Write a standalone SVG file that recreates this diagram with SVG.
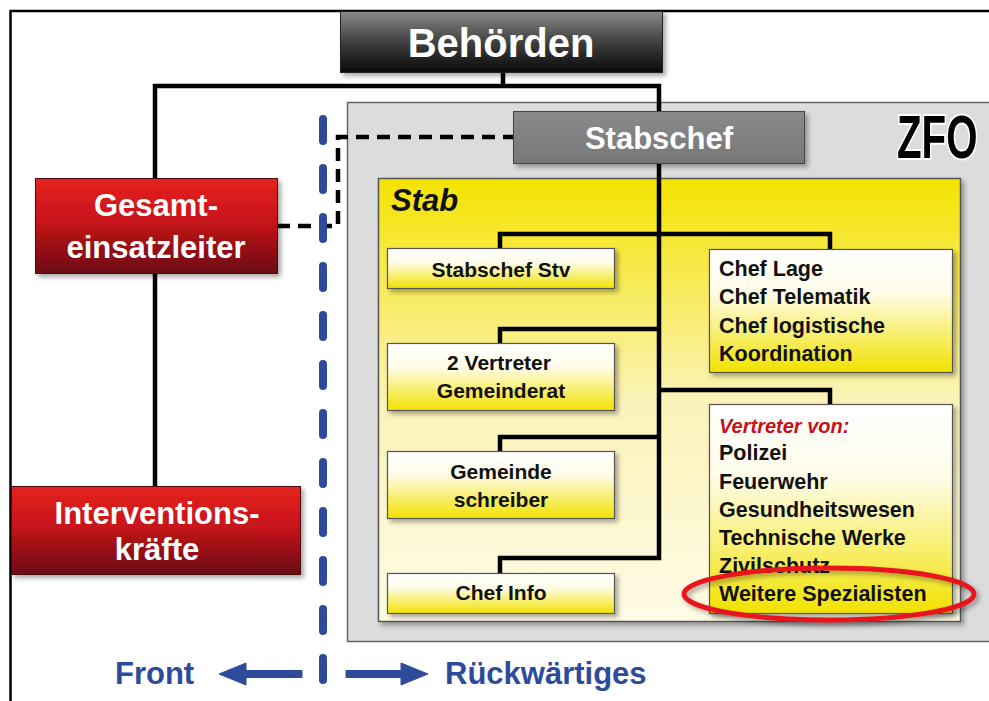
<svg xmlns="http://www.w3.org/2000/svg" width="989" height="701" viewBox="0 0 989 701">
<defs>
<linearGradient id="gDark" x1="0" y1="0" x2="0" y2="1"><stop offset="0" stop-color="#8a8a8a"/><stop offset="0.55" stop-color="#3a3a3a"/><stop offset="1" stop-color="#0a0a0a"/></linearGradient>
<linearGradient id="gGray" x1="0" y1="0" x2="0" y2="1"><stop offset="0" stop-color="#8a8a8a"/><stop offset="1" stop-color="#777"/></linearGradient>
<linearGradient id="gRed" x1="0" y1="0" x2="0" y2="1"><stop offset="0" stop-color="#e52420"/><stop offset="0.45" stop-color="#c8121a"/><stop offset="1" stop-color="#6a1012"/></linearGradient>
<linearGradient id="gStab" x1="0" y1="0" x2="0" y2="1"><stop offset="0" stop-color="#f4e300"/><stop offset="0.5" stop-color="#fbf3b8"/><stop offset="1" stop-color="#fffbe6"/></linearGradient>
<linearGradient id="gBox" x1="0" y1="0" x2="0" y2="1"><stop offset="0" stop-color="#ffffff"/><stop offset="0.35" stop-color="#fefce8"/><stop offset="1" stop-color="#f2e200"/></linearGradient>
<filter id="sh" x="-10%" y="-10%" width="130%" height="130%"><feGaussianBlur in="SourceAlpha" stdDeviation="2.5"/><feOffset dx="3" dy="3" result="b"/><feComponentTransfer><feFuncA type="linear" slope="0.35"/></feComponentTransfer><feMerge><feMergeNode/><feMergeNode in="SourceGraphic"/></feMerge></filter>
</defs>
<style>
.t{font-family:"Liberation Sans",Arial,sans-serif;font-weight:bold}
.w{fill:#ffffff}
.k{fill:#111}
.c{text-anchor:middle}
.blu{fill:#2e4b9b}
.con{fill:none;stroke:#000;stroke-width:4.5;stroke-linejoin:miter}
.dash{fill:none;stroke:#000;stroke-width:4.5;stroke-dasharray:13 8}
.ybox{fill:url(#gBox);stroke:#555;stroke-width:1.2}
.arr{fill:#2e4b9b;stroke:#2e4b9b;stroke-width:1;stroke-linejoin:round}
</style>
<rect width="989" height="701" fill="#ffffff"/>
<!-- frame -->
<path d="M10.5,701 V11 H989" fill="none" stroke="#000" stroke-width="2.5"/>

<!-- ZFO panel -->
<g id="zfo">
<rect x="347.5" y="102.5" width="650" height="539" fill="#dcdcdc" stroke="#666" stroke-width="1.5"/>
<text class="t" transform="translate(897,158) scale(0.66,1)" x="0" y="0" font-size="61" fill="#000" stroke="#fff" stroke-width="4" paint-order="stroke">ZFO</text>
</g>
<g id="stab">
<rect x="378.5" y="178.5" width="582" height="443" fill="url(#gStab)" stroke="#555" stroke-width="1.5" filter="url(#sh)"/>
<text class="t k" x="391" y="211" font-size="31" font-style="italic">Stab</text>
</g>

<!-- connectors -->
<g id="connectors">
<path class="con" d="M503,72 V86 M155,178 V86 H659 V111"/>
<path class="con" d="M155,273 V486"/>
<path class="con" d="M659,163 V558 H500 V573"/>
<path class="con" d="M500,248 V234 H830 V249"/>
<path class="con" d="M500,343 V329 H659"/>
<path class="con" d="M659,390 H830 V404"/>
<path class="con" d="M500,451 V437 H659"/>
<path class="dash" d="M277,226 H338 V137 H513"/>
<line x1="323" y1="119" x2="323" y2="690" stroke="#2e4b9b" stroke-width="8" stroke-linecap="round" stroke-dasharray="22 27"/>
<path class="arr" d="M302,670.5 H246 V663 L219,674 L246,685 V677.5 H302 Z"/>
<path class="arr" d="M346,670.5 H401 V663 L428,674 L401,685 V677.5 H346 Z"/>
</g>

<g id="behoerden">
<rect x="340.5" y="11.5" width="322" height="61" fill="url(#gDark)" stroke="#222" stroke-width="1" filter="url(#sh)"/>
<text class="t w c" x="501" y="57" font-size="40">Behörden</text>
</g>
<g id="stabschef">
<rect x="513.5" y="111.5" width="291" height="52" fill="url(#gGray)" stroke="#444" stroke-width="1" filter="url(#sh)"/>
<text class="t w c" x="659" y="149" font-size="31">Stabschef</text>
</g>
<g id="gesamteinsatzleiter">
<rect x="35.5" y="178.5" width="242" height="95" fill="url(#gRed)" stroke="#4a0a0a" stroke-width="1" filter="url(#sh)"/>
<text class="t w c" x="156" y="216" font-size="31">Gesamt-</text>
<text class="t w c" x="156" y="258" font-size="31">einsatzleiter</text>
</g>
<g id="interventionskraefte">
<rect x="11.5" y="486.5" width="289" height="88" fill="url(#gRed)" stroke="#4a0a0a" stroke-width="1" filter="url(#sh)"/>
<text class="t w c" x="157" y="524" font-size="31">Interventions-</text>
<text class="t w c" x="157" y="560" font-size="31">kräfte</text>
</g>

<g id="stabschef-stv">
<rect class="ybox" x="387.5" y="248.5" width="227" height="40" filter="url(#sh)"/>
<text class="t k c" x="501" y="277" font-size="21">Stabschef Stv</text>
</g>
<g id="vertreter-gemeinderat">
<rect class="ybox" x="387.5" y="343.5" width="227" height="67" filter="url(#sh)"/>
<text class="t k c" x="499" y="370" font-size="21">2 Vertreter</text>
<text class="t k c" x="501" y="398" font-size="21">Gemeinderat</text>
</g>
<g id="gemeindeschreiber">
<rect class="ybox" x="387.5" y="451.5" width="227" height="67" filter="url(#sh)"/>
<text class="t k c" x="501" y="479" font-size="21">Gemeinde</text>
<text class="t k c" x="501" y="507" font-size="21">schreiber</text>
</g>
<g id="chef-info">
<rect class="ybox" x="387.5" y="573.5" width="227" height="40" filter="url(#sh)"/>
<text class="t k c" x="501" y="600" font-size="21">Chef Info</text>
</g>
<g id="chef-lage">
<rect class="ybox" x="709.5" y="249.5" width="243" height="123" filter="url(#sh)"/>
<text class="t k" x="719" y="276" font-size="21.5">Chef Lage</text>
<text class="t k" x="719" y="304" font-size="21.5">Chef Telematik</text>
<text class="t k" x="719" y="333" font-size="21.5">Chef logistische</text>
<text class="t k" x="719" y="361" font-size="21.5">Koordination</text>
</g>
<g id="vertreter-von">
<rect class="ybox" x="709.5" y="404.5" width="243" height="209" filter="url(#sh)"/>
<text class="t" x="719" y="433" font-size="20" font-style="italic" fill="#c8101a">Vertreter von:</text>
<text class="t k" x="719" y="460" font-size="21.5">Polizei</text>
<text class="t k" x="719" y="489" font-size="21.5">Feuerwehr</text>
<text class="t k" x="719" y="517" font-size="21.5">Gesundheitswesen</text>
<text class="t k" x="719" y="545" font-size="21.5">Technische Werke</text>
<text class="t k" x="719" y="573" font-size="21.5">Zivilschutz</text>
<text class="t k" x="719" y="601" font-size="21.5">Weitere Spezialisten</text>
<ellipse cx="829" cy="594" rx="145" ry="26" fill="none" stroke="#e8141c" stroke-width="5" filter="url(#sh)"/>
</g>

<g id="labels">
<text class="t blu" x="115" y="684" font-size="31">Front</text>
<text class="t blu" x="445" y="684" font-size="31">Rückwärtiges</text>
</g>
</svg>
